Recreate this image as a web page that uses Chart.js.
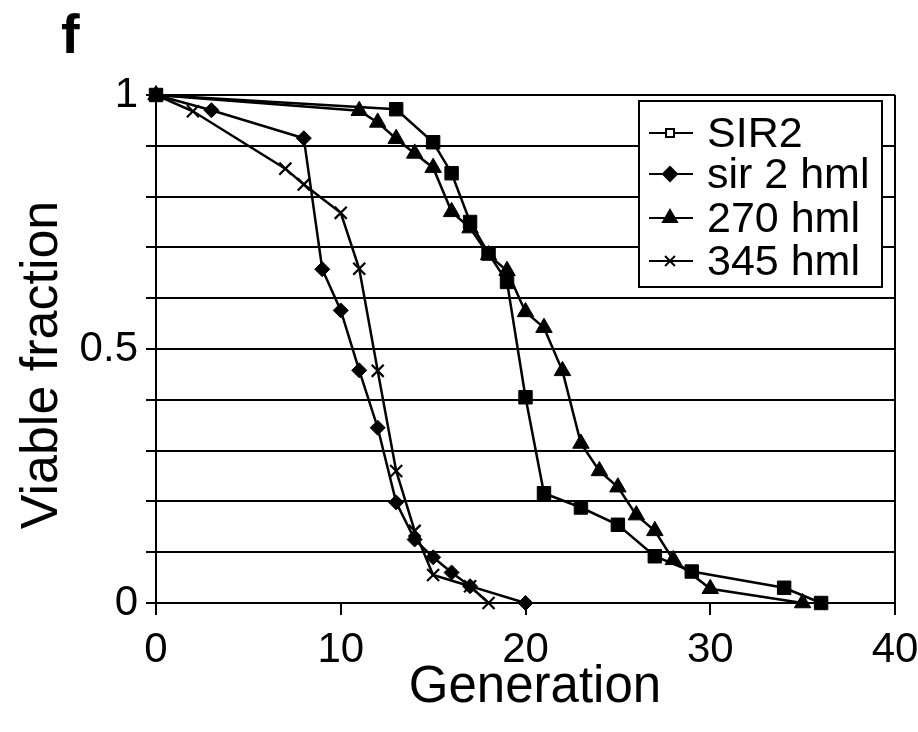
<!DOCTYPE html>
<html>
<head>
<meta charset="utf-8">
<title>Viable fraction vs generation</title>
<script src="https://cdn.jsdelivr.net/npm/chart.js@4.4.1/dist/chart.umd.min.js"></script>
<style>
  body { margin: 0; background: #fff; }
  #chartBox { width: 918px; height: 732px; }
</style>
</head>
<body>
<div id="chartBox"><canvas id="survivalChart" width="918" height="732"></canvas></div>
<script>
// values
const seriesNames = ["SIR2", "sir 2 hml", "270 hml", "345 hml"];

const sir2Gen = [0, 13, 15, 16, 17, 18, 19, 20, 21, 23, 25, 27, 29, 34, 36];
const sir2Viable = [1, 0.972, 0.907, 0.846, 0.75, 0.688, 0.632, 0.405, 0.216, 0.188, 0.154, 0.092, 0.062, 0.03, 0];

const sir2hmlGen = [0, 3, 8, 9, 10, 11, 12, 13, 14, 15, 16, 17, 20];
const sir2hmlViable = [1, 0.97, 0.915, 0.657, 0.576, 0.458, 0.345, 0.198, 0.125, 0.09, 0.06, 0.033, 0];

const hml270Gen = [0, 11, 12, 13, 14, 15, 16, 17, 18, 19, 20, 21, 22, 23, 24, 25, 26, 27, 28, 30, 35];
const hml270Viable = [1, 0.969, 0.946, 0.914, 0.885, 0.857, 0.77, 0.738, 0.685, 0.654, 0.573, 0.542, 0.457, 0.314, 0.26, 0.228, 0.173, 0.142, 0.085, 0.028, 0];

const hml345Gen = [0, 2, 7, 8, 10, 11, 12, 13, 14, 15, 17, 18];
const hml345Viable = [1, 0.968, 0.855, 0.824, 0.768, 0.658, 0.457, 0.26, 0.142, 0.055, 0.033, 0];

const xTickLabels = ["0", "10", "20", "30", "40"];
const yTickLabels = ["0", "0.5", "1"];
const xTitle = "Generation";
const yTitle = "Viable fraction";

const FONT = "'Liberation Sans', Arial, Helvetica, sans-serif";

function toPoints(gen, viable) {
  return gen.map((g, i) => ({ x: g, y: viable[i] }));
}

function makeSeries(label, gen, viable, style, radius) {
  return {
    label: label,
    data: toPoints(gen, viable),
    borderColor: "#000",
    backgroundColor: "#000",
    borderWidth: 2.5,
    pointStyle: style,
    pointRadius: radius,
    pointBorderWidth: style === "crossRot" ? 2.2 : 1,
    pointBackgroundColor: "#000",
    pointBorderColor: "#000",
    tension: 0,
    clip: false
  };
}

// legend box, axis titles and panel letter, drawn on top of the plot
const legendSpec = [
  { style: "rect", r: 5, hollow: true },
  { style: "rectRot", r: 7 },
  { style: "triangle", r: 8 },
  { style: "crossRot", r: 7 }
];

const overlayPlugin = {
  id: "overlay",
  afterDraw(chart) {
    const ctx = chart.ctx;
    ctx.save();
    // panel letter
    ctx.fillStyle = "#000";
    ctx.font = "bold 56px " + FONT;
    ctx.textAlign = "left";
    ctx.textBaseline = "alphabetic";
    ctx.fillText("f", 61, 53);

    // axis titles (both sit a little off the plot centre in the original)
    ctx.font = "51px " + FONT;
    ctx.textAlign = "center";
    ctx.fillText(xTitle, 535, 702);

    ctx.save();
    ctx.translate(57, 365);
    ctx.rotate(-Math.PI / 2);
    ctx.font = "52px " + FONT;
    ctx.fillText(yTitle, 0, 0);
    ctx.restore();

    // legend
    const bx = 639, by = 101, bw = 243, bh = 186;
    ctx.fillStyle = "#fff";
    ctx.fillRect(bx, by, bw, bh);
    ctx.strokeStyle = "#000";
    ctx.lineWidth = 2;
    ctx.strokeRect(bx, by, bw, bh);

    const rowY = [133, 174, 218, 261];
    ctx.font = "43px " + FONT;
    ctx.textAlign = "left";
    ctx.textBaseline = "middle";
    seriesNames.forEach((name, i) => {
      const y = rowY[i];
      ctx.strokeStyle = "#000";
      ctx.lineWidth = 2;
      ctx.beginPath();
      ctx.moveTo(649, y);
      ctx.lineTo(693, y);
      ctx.stroke();
      const spec = legendSpec[i];
      if (spec.hollow) {
        ctx.fillStyle = "#fff";
        ctx.fillRect(666, y - 4, 8, 8);
        ctx.strokeRect(666, y - 4, 8, 8);
      } else {
        ctx.fillStyle = "#000";
        Chart.helpers.drawPoint(ctx, { pointStyle: spec.style, radius: spec.r, borderWidth: 2 }, 670, y);
        ctx.fill();
      }
      ctx.fillStyle = "#000";
      ctx.fillText(name, 707, y + 2);
    });
    ctx.restore();
  }
};

function drawChart() {
  const ctx = document.getElementById("survivalChart").getContext("2d");

  new Chart(ctx, {
    type: "line",
    data: {
      datasets: [
        makeSeries(seriesNames[0], sir2Gen, sir2Viable, "rect", 9.5),
        makeSeries(seriesNames[1], sir2hmlGen, sir2hmlViable, "rectRot", 7.5),
        makeSeries(seriesNames[2], hml270Gen, hml270Viable, "triangle", 9.5),
        makeSeries(seriesNames[3], hml345Gen, hml345Viable, "crossRot", 8.5)
      ]
    },
    options: {
      responsive: false,
      devicePixelRatio: 1,
      animation: false,
      events: [],
      layout: { padding: { left: 0, right: 23, top: 95, bottom: 0 } },
      plugins: {
        legend: { display: false },
        tooltip: { enabled: false }
      },
      scales: {
        x: {
          type: "linear",
          min: 0,
          max: 40,
          afterFit(scale) {
            scale.height = 129;
            scale.paddingLeft = 0;
            scale.paddingRight = 0;
          },
          border: { display: true, color: "#000", width: 2 },
          grid: {
            drawOnChartArea: true,
            color: c => (c.tick && c.tick.value === 40 ? "#000" : "rgba(0,0,0,0)"),
            tickColor: "#000",
            lineWidth: 2,
            tickLength: 12
          },
          ticks: {
            stepSize: 10,
            autoSkip: false,
            color: "#000",
            padding: 10,
            maxRotation: 0,
            font: { family: FONT, size: 42 },
            callback: v => (xTickLabels.includes(String(v)) ? String(v) : "")
          },
          title: { display: false }
        },
        y: {
          type: "linear",
          min: 0,
          max: 1,
          afterFit(scale) { scale.width = 156; },
          border: { display: true, color: "#000", width: 2 },
          grid: {
            color: "#000",
            lineWidth: 2,
            tickLength: 10
          },
          ticks: {
            stepSize: 0.1,
            autoSkip: false,
            maxTicksLimit: 11,
            color: "#000",
            padding: 8,
            font: { family: FONT, size: 42, lineHeight: 1 },
            callback: function (v) {
              const s = String(Math.round(v * 10) / 10);
              return yTickLabels.includes(s) ? s : "";
            }
          },
          title: { display: false }
        }
      }
    },
    plugins: [overlayPlugin]
  });
}

drawChart();
</script>
</body>
</html>
